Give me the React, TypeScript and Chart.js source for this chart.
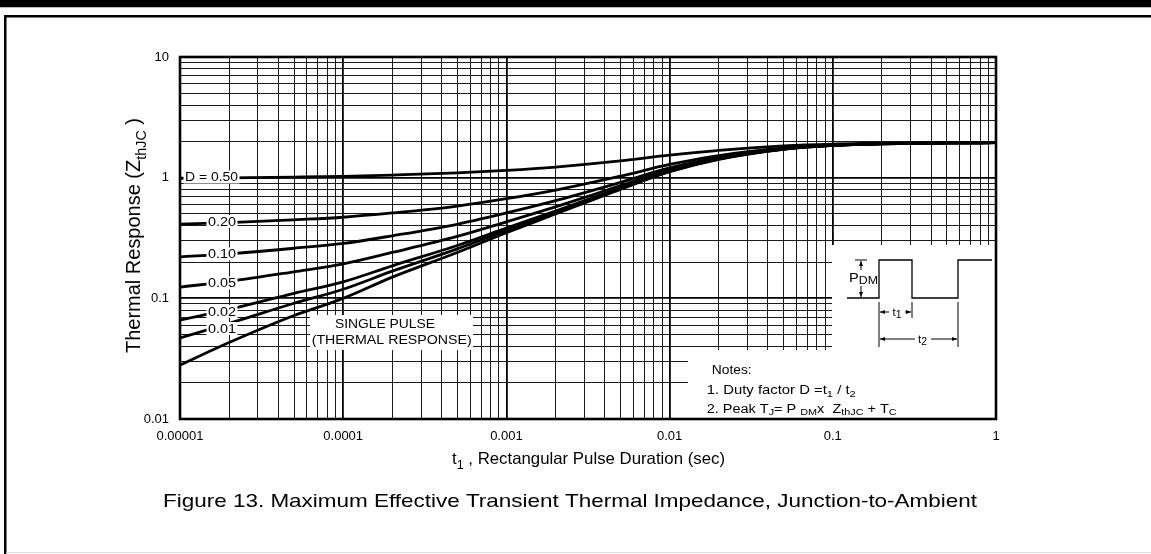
import React, { useEffect, useRef } from 'react';
import { Chart, registerables } from 'chart.js';

Chart.register(...registerables);

const FONT = "'Liberation Sans', Arial, Helvetica, sans-serif";

// t1, rectangular pulse duration (sec)
const pulseDurations = [1e-5, 2e-5, 5e-5, 1e-4, 2e-4, 5e-4, 1e-3, 2e-3, 5e-3, 1e-2, 2e-2, 5e-2, 0.1, 0.2, 0.5, 1];

// Thermal response
const duty050 = [0.989, 0.997, 1.011, 1.025, 1.05, 1.095, 1.15, 1.225, 1.375, 1.535, 1.685, 1.835, 1.9, 1.93, 1.945, 1.95];
const duty020 = [0.412, 0.424, 0.448, 0.47, 0.51, 0.582, 0.67, 0.79, 1.03, 1.286, 1.526, 1.766, 1.87, 1.918, 1.942, 1.95];
const duty010 = [0.22, 0.234, 0.26, 0.285, 0.33, 0.411, 0.51, 0.645, 0.915, 1.203, 1.473, 1.743, 1.86, 1.914, 1.941, 1.95];
const duty005 = [0.124, 0.138, 0.166, 0.193, 0.24, 0.326, 0.43, 0.573, 0.858, 1.162, 1.447, 1.732, 1.855, 1.912, 1.94, 1.95];
const duty002 = [0.066, 0.081, 0.11, 0.137, 0.186, 0.274, 0.382, 0.529, 0.823, 1.137, 1.431, 1.725, 1.852, 1.911, 1.94, 1.95];
const duty001 = [0.047, 0.062, 0.091, 0.119, 0.168, 0.257, 0.366, 0.515, 0.812, 1.128, 1.425, 1.722, 1.851, 1.91, 1.94, 1.95];
const singlePulse = [0.028, 0.043, 0.072, 0.1, 0.15, 0.24, 0.35, 0.5, 0.8, 1.12, 1.42, 1.72, 1.85, 1.91, 1.94, 1.95];

const seriesNames = ['D = 0.50', 'D = 0.20', 'D = 0.10', 'D = 0.05', 'D = 0.02', 'D = 0.01', 'Single pulse'];
const seriesValues = [duty050, duty020, duty010, duty005, duty002, duty001, singlePulse];
const dutyLabelTexts = ['D = 0.50', '0.20', '0.10', '0.05', '0.02', '0.01'];

const xDecades = [1e-5, 1e-4, 1e-3, 1e-2, 1e-1, 1];
const xTickLabels = ['0.00001', '0.0001', '0.001', '0.01', '0.1', '1'];
const yDecades = [0.01, 0.1, 1, 10];
const yTickLabels = ['0.01', '0.1', '1', '10'];
const minorMultipliers = [1, 2, 3, 4, 5, 6, 7, 8, 9];

const captionText = 'Figure 13. Maximum Effective Transient Thermal Impedance, Junction-to-Ambient';

type Seg = { t: string; sub?: boolean };

function isDecade(v: number) {
  if (!v) return false;
  const l = Math.log10(v);
  return Math.abs(l - Math.round(l)) < 1e-6;
}

function gridTicks(decades: number[]) {
  const out: { value: number }[] = [];
  for (let i = 0; i < decades.length - 1; i++) {
    for (const m of minorMultipliers) out.push({ value: decades[i] * m });
  }
  out.push({ value: decades[decades.length - 1] });
  return out;
}

function labelFor(decades: number[], labels: string[], v: number) {
  const i = decades.findIndex((d) => Math.abs(d - v) / d < 1e-6);
  return i >= 0 ? labels[i] : '';
}

function richWidth(ctx: CanvasRenderingContext2D, segs: Seg[], size: number, subScale = 0.75) {
  let w = 0;
  for (const s of segs) {
    ctx.font = `${s.sub ? size * subScale : size}px ${FONT}`;
    w += ctx.measureText(s.t).width;
  }
  return w;
}

function drawRich(
  ctx: CanvasRenderingContext2D,
  segs: Seg[],
  x: number,
  baseline: number,
  size: number,
  opts: { target?: number; align?: 'left' | 'center'; rotate?: boolean; subScale?: number; subDrop?: number } = {}
) {
  const subScale = opts.subScale ?? 0.75;
  const w = richWidth(ctx, segs, size, subScale);
  const sx = opts.target ? opts.target / w : 1;
  ctx.save();
  ctx.translate(x, baseline);
  if (opts.rotate) ctx.rotate(-Math.PI / 2);
  ctx.scale(sx, 1);
  ctx.fillStyle = '#000';
  ctx.textBaseline = 'alphabetic';
  ctx.textAlign = 'left';
  let cx = opts.align === 'center' ? -w / 2 : 0;
  const drop = opts.subDrop ?? size * 0.3;
  for (const s of segs) {
    ctx.font = `${s.sub ? size * subScale : size}px ${FONT}`;
    ctx.fillText(s.t, cx, s.sub ? drop : 0);
    cx += ctx.measureText(s.t).width;
  }
  ctx.restore();
}

function arrowHead(ctx: CanvasRenderingContext2D, x: number, y: number, dir: 'left' | 'right' | 'up' | 'down') {
  const len = 5;
  const hw = 2;
  ctx.beginPath();
  if (dir === 'left') {
    ctx.moveTo(x, y); ctx.lineTo(x + len, y - hw); ctx.lineTo(x + len, y + hw);
  } else if (dir === 'right') {
    ctx.moveTo(x, y); ctx.lineTo(x - len, y - hw); ctx.lineTo(x - len, y + hw);
  } else if (dir === 'up') {
    ctx.moveTo(x, y); ctx.lineTo(x - hw, y + len); ctx.lineTo(x + hw, y + len);
  } else {
    ctx.moveTo(x, y); ctx.lineTo(x - hw, y - len); ctx.lineTo(x + hw, y - len);
  }
  ctx.closePath();
  ctx.fill();
}

function line(ctx: CanvasRenderingContext2D, pts: number[][], width = 1.2) {
  ctx.beginPath();
  ctx.moveTo(pts[0][0], pts[0][1]);
  for (let i = 1; i < pts.length; i++) ctx.lineTo(pts[i][0], pts[i][1]);
  ctx.lineWidth = width;
  ctx.strokeStyle = '#000';
  ctx.stroke();
}

const sheetPlugin = {
  id: 'sheet',
  beforeDraw(chart: any) {
    const ctx: CanvasRenderingContext2D = chart.ctx;
    const W = chart.width;
    const H = chart.height;
    ctx.save();
    ctx.fillStyle = '#fff';
    ctx.fillRect(0, 0, W, H);
    // top bar
    ctx.fillStyle = '#000';
    ctx.fillRect(0, 0, W, 7);
    ctx.fillStyle = '#bdbdbd';
    ctx.fillRect(0, 7, W, 1);
    // frame
    ctx.fillStyle = '#000';
    ctx.fillRect(4, 15, W - 4, 2.5);
    ctx.fillRect(4, 15, 2.5, H - 15);
    ctx.fillStyle = '#dedede';
    ctx.fillRect(6, H - 2, W - 6, 1);
    // caption
    drawRich(ctx, [{ t: captionText }], 163, 506.5, 19, { target: 814 });
    ctx.restore();
  },
  beforeDatasetsDraw(chart: any) {
    const ctx: CanvasRenderingContext2D = chart.ctx;
    const a = chart.chartArea;
    ctx.save();
    ctx.fillStyle = '#fff';
    // notes box
    ctx.fillRect(688, 350, a.right - 688, a.bottom - 350);
    // pulse inset box
    ctx.fillRect(832, 245, a.right - 832, a.bottom - 245);
    // single pulse label box
    ctx.fillRect(310, 315, 163, 35);
    ctx.restore();
  },
  afterDatasetsDraw(chart: any) {
    const ctx: CanvasRenderingContext2D = chart.ctx;
    const a = chart.chartArea;
    ctx.save();

    // duty cycle labels
    const labelY = [177, 221.5, 254, 283, 311.5, 328.5];
    dutyLabelTexts.forEach((txt, i) => {
      const left = i === 0 ? 185 : 208;
      const width = i === 0 ? 53 : 28;
      ctx.fillStyle = '#fff';
      ctx.fillRect(left - 1.5, labelY[i] - 6.5, width + 3, 13);
      drawRich(ctx, [{ t: txt }], left, labelY[i] + 4.3, 12, { target: width });
    });

    // single pulse label
    drawRich(ctx, [{ t: 'SINGLE PULSE' }], 385, 328.3, 12, { align: 'center', target: 100 });
    drawRich(ctx, [{ t: '(THERMAL RESPONSE)' }], 391.7, 344.3, 12, { align: 'center', target: 160 });

    // notes
    drawRich(ctx, [{ t: 'Notes:' }], 711.7, 374.3, 12.5, { target: 40 });
    drawRich(ctx, [{ t: '1. Duty factor D =t' }, { t: '1', sub: true }, { t: ' / t' }, { t: '2', sub: true }], 706.7, 394, 12.5, { target: 149, subDrop: 2.5 });
    drawRich(
      ctx,
      [
        { t: '2. Peak T' }, { t: 'J', sub: true }, { t: '= P ' }, { t: 'DM', sub: true },
        { t: 'x  Z' }, { t: 'thJC', sub: true }, { t: ' + T' }, { t: 'C', sub: true },
      ],
      706.7, 412.5, 12.5, { target: 190, subDrop: 2.5 }
    );

    // pulse waveform
    line(ctx, [[847, 298], [879, 298], [879, 260], [912, 260], [912, 298], [958, 298], [958, 260], [992, 260]], 1.3);
    ctx.fillStyle = '#000';
    // P_DM arrow
    line(ctx, [[861, 261], [861, 270]], 1);
    line(ctx, [[861, 286], [861, 297]], 1);
    line(ctx, [[855, 260], [867, 260]], 1);
    arrowHead(ctx, 861, 261, 'up');
    arrowHead(ctx, 861, 297, 'down');
    drawRich(ctx, [{ t: 'P' }, { t: 'DM', sub: true }], 849, 282, 12, { target: 29, subScale: 0.85, subDrop: 2 });
    // t1 dimension
    line(ctx, [[879, 302], [879, 347]], 1);
    line(ctx, [[912, 302], [912, 318]], 1);
    line(ctx, [[958, 302], [958, 347]], 1);
    line(ctx, [[880, 312], [889, 312]], 1);
    line(ctx, [[905, 312], [911, 312]], 1);
    ctx.fillStyle = '#000';
    arrowHead(ctx, 880, 312, 'left');
    arrowHead(ctx, 911, 312, 'right');
    drawRich(ctx, [{ t: 't' }, { t: '1', sub: true }], 897, 315.5, 11.5, { align: 'center', subScale: 0.9, subDrop: 2 });
    // t2 dimension
    line(ctx, [[880, 339], [915, 339]], 1);
    line(ctx, [[931, 339], [957, 339]], 1);
    ctx.fillStyle = '#000';
    arrowHead(ctx, 880, 339, 'left');
    arrowHead(ctx, 957, 339, 'right');
    drawRich(ctx, [{ t: 't' }, { t: '2', sub: true }], 922.5, 342.5, 11.5, { align: 'center', subScale: 0.9, subDrop: 2 });

    // plot frame
    ctx.strokeStyle = '#000';
    ctx.lineWidth = 2.6;
    ctx.strokeRect(a.left, a.top, a.right - a.left, a.bottom - a.top);

    // axis titles
    drawRich(ctx, [{ t: 't' }, { t: '1', sub: true }, { t: ' , Rectangular Pulse Duration (sec)' }], 452, 464, 16.5, { target: 273, subDrop: 5 });
    drawRich(ctx, [{ t: 'Thermal Response (Z' }, { t: 'thJC', sub: true }, { t: ' )' }], 140, 353, 20, { rotate: true, target: 235, subDrop: 6, subScale: 0.72 });

    ctx.restore();
  },
};

export default function App() {
  const canvasRef = useRef<HTMLCanvasElement | null>(null);

  useEffect(() => {
    document.body.style.margin = '0';
    const canvas = canvasRef.current;
    if (!canvas) return;

    const datasets = seriesValues.map((vals, i) => ({
      label: seriesNames[i],
      data: pulseDurations.map((t, j) => ({ x: t, y: vals[j] })),
      borderColor: '#000',
      borderWidth: 2.8,
      pointRadius: 0,
      fill: false,
      cubicInterpolationMode: 'monotone' as const,
    }));

    const chart = new Chart(canvas, {
      type: 'line',
      data: { datasets },
      options: {
        responsive: false,
        maintainAspectRatio: false,
        devicePixelRatio: 1,
        animation: false,
        layout: { padding: { left: 0, right: 155, top: 57, bottom: 0 } },
        plugins: { legend: { display: false }, tooltip: { enabled: false } },
        scales: {
          x: {
            type: 'logarithmic',
            min: 1e-5,
            max: 1,
            afterBuildTicks: (scale: any) => {
              scale.ticks = gridTicks(xDecades);
            },
            afterFit: (scale: any) => {
              scale.height = 135;
            },
            border: { display: false },
            grid: {
              drawTicks: false,
              color: (c: any) => (isDecade(c.tick?.value) ? '#000' : '#1a1a1a'),
              lineWidth: (c: any) => (isDecade(c.tick?.value) ? 1.8 : 1),
            },
            ticks: {
              autoSkip: false,
              maxRotation: 0,
              minRotation: 0,
              padding: 10,
              color: '#000',
              font: { family: FONT, size: 13 },
              callback: (v: any) => labelFor(xDecades, xTickLabels, Number(v)),
            },
          },
          y: {
            type: 'logarithmic',
            min: 0.01,
            max: 10,
            afterBuildTicks: (scale: any) => {
              scale.ticks = gridTicks(yDecades);
            },
            afterFit: (scale: any) => {
              scale.width = 180;
            },
            border: { display: false },
            grid: {
              drawTicks: false,
              color: (c: any) => (isDecade(c.tick?.value) ? '#000' : '#1a1a1a'),
              lineWidth: (c: any) => (isDecade(c.tick?.value) ? 1.8 : 1),
            },
            ticks: {
              autoSkip: false,
              padding: 11,
              color: '#000',
              font: { family: FONT, size: 13 },
              callback: (v: any) => labelFor(yDecades, yTickLabels, Number(v)),
            },
          },
        },
      },
      plugins: [sheetPlugin],
    });

    return () => chart.destroy();
  }, []);

  return (
    <div style={{ width: 1151, height: 554, position: 'relative' }}>
      <canvas ref={canvasRef} width={1151} height={554} style={{ display: 'block' }} />
    </div>
  );
}
